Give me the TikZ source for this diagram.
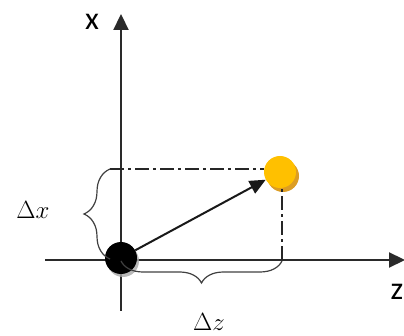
\documentclass[tikz,border=0pt]{standalone}
\usepackage{fontspec}
\newfontfamily\axisfont{Carlito}
\usetikzlibrary{arrows.meta,decorations.pathreplacing,shadows}

\definecolor{gold}{HTML}{FFC000}
\definecolor{axisgray}{HTML}{2A2A2A}

\begin{document}
\begin{tikzpicture}[
    x=1pt, y=-1pt,
    axis/.style={draw=axisgray, line width=2.2pt, -{Triangle[length=16pt,width=15pt]}},
    guide/.style={draw=black!85, line width=1.8pt, dash pattern=on 14pt off 4pt on 3pt off 4pt},
    vec/.style={draw=black!90, line width=2pt, -{Triangle[length=16pt,width=14pt]}},
    ball/.style={circle, minimum size=32pt, inner sep=0pt},
    brc/.style={draw=black!75, line width=1.2pt, decorate},
    deltalabel/.style={font=\fontsize{29}{32}\selectfont},
    axislabel/.style={font=\axisfont\fontsize{32}{34}\selectfont}
]
\useasboundingbox (0,0) rectangle (404,336);

\draw[axis] (121,311) -- (121,14);
\draw[axis] (45,260) -- (405,260);

\coordinate (gx) at (110,169);
\coordinate (gz) at (282,260);

\node[ball, fill=gold, drop shadow={fill=brown!55!gold, opacity=1, shadow xshift=3pt, shadow yshift=-4pt}] (point) at (280,172) {};
\draw[guide] (gx) -- (point.west |- gx);
\draw[guide] (gz) -- (point.south -| gz);

\node[ball, fill=black, drop shadow={fill=black!35, opacity=0.8, shadow xshift=2pt, shadow yshift=-3pt}] (origin) at (121,258) {};
\draw[vec] (origin) -- (point);

% braces for the two offsets
\draw[brc, decoration={brace, amplitude=26pt}] (110,259) -- (gx);
\draw[brc, decoration={brace, amplitude=22pt}] (gz) ++(0,1) -- (121,261);

\node[deltalabel] (dx) at (33,210) {$\Delta x$};
\node[deltalabel] (dz) at (209,322) {$\Delta z$};
\node[axislabel] (xlab) at (92,22) {x};
\node[axislabel] (zlab) at (397,292) {z};
\end{tikzpicture}
\end{document}
